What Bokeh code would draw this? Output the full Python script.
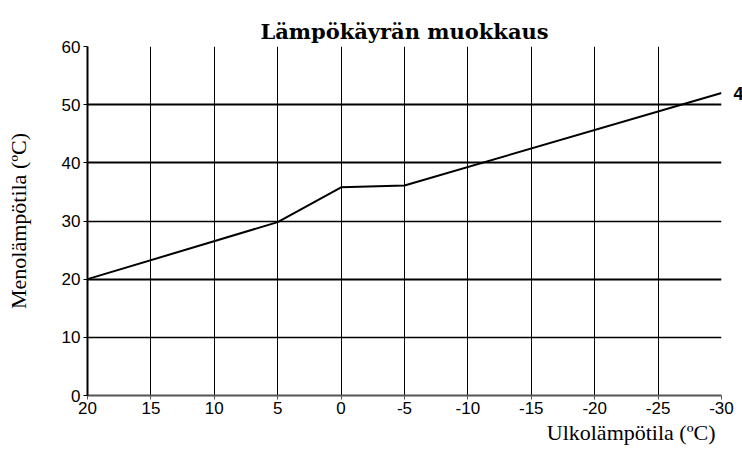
from bokeh.plotting import figure
from bokeh.models import Range1d, FixedTicker, Grid, Title, LinearAxis, PrintfTickFormatter
from bokeh.embed import file_html
from bokeh.resources import INLINE

# Data
outdoor_temp = [20, 5, 0, -5, -30]
flow_temp = [20, 29.8, 35.8, 36.1, 52.0]
x_ticks = [20, 15, 10, 5, 0, -5, -10, -15, -20, -25, -30]
y_ticks = [0, 10, 20, 30, 40, 50, 60]
title_text = "Lämpökäyrän muokkaus"
x_label = "Ulkolämpötila (ºC)"
y_label = "Menolämpötila (ºC)"
curve_label = "4"

p = figure(frame_width=634, frame_height=349, output_backend="svg",
           toolbar_location=None, x_range=Range1d(20, -30), y_range=Range1d(0, 60),
           min_border_left=87, min_border_right=20, min_border_top=46, min_border_bottom=54)
p.outline_line_color = None
p.background_fill_color = "white"

p.title.text = title_text
p.title.align = "center"
p.title.text_font = "DejaVu Serif"
p.title.text_font_style = "bold"
p.title.text_font_size = "21px"
p.title.text_color = "black"
p.title.standoff = 6

# axes
for ax in (p.xaxis[0], p.yaxis[0]):
    ax.major_label_text_font = "Liberation Sans"
    ax.major_label_text_font_size = "17px"
    ax.major_label_text_color = "black"
    ax.minor_tick_line_color = None
    ax.major_tick_in = 0
    ax.major_tick_out = 4
    ax.axis_line_width = 2
    ax.formatter = PrintfTickFormatter(format="%d")
p.xaxis.ticker = FixedTicker(ticks=x_ticks)
p.yaxis.ticker = FixedTicker(ticks=y_ticks)
p.xaxis.axis_line_color = "#555555"
p.xaxis.major_tick_line_color = "#555555"
p.yaxis.axis_line_color = "black"
p.xaxis.major_label_standoff = 2
p.yaxis.major_label_standoff = 3

p.yaxis.axis_label = y_label
p.yaxis.axis_label_text_font = "Liberation Serif"
p.yaxis.axis_label_text_font_style = "normal"
p.yaxis.axis_label_text_font_size = "22px"
p.yaxis.axis_label_text_color = "black"
p.yaxis.axis_label_standoff = 28

xt = Title(text=x_label, align="right", text_font="Liberation Serif",
           text_font_style="normal", text_font_size="22px", text_color="black",
           offset=6, standoff=2)
p.add_layout(xt, "below")

# right axis carrying the curve number
ra = LinearAxis(ticker=FixedTicker(ticks=[flow_temp[-1]]),
                major_label_overrides={flow_temp[-1]: curve_label},
                axis_line_color=None, major_tick_line_color=None,
                minor_tick_line_color=None, major_label_standoff=6,
                major_label_text_font="Liberation Sans", major_label_text_font_style="bold",
                major_label_text_font_size="18px", major_label_text_color="black")
p.add_layout(ra, "right")

# grids
p.xgrid.ticker = FixedTicker(ticks=x_ticks[1:-1])
p.xgrid.grid_line_color = "black"
p.xgrid.grid_line_width = 1
p.ygrid.ticker = FixedTicker(ticks=[10, 30])
p.ygrid.grid_line_color = "black"
p.ygrid.grid_line_width = 1.5
p.add_layout(Grid(dimension=1, ticker=FixedTicker(ticks=[20, 40, 50, 60]),
                  grid_line_color="black", grid_line_width=2))
p.add_layout(Grid(dimension=0, ticker=FixedTicker(ticks=[-30]),
                  grid_line_color="#555555", grid_line_width=2))

p.line(outdoor_temp, flow_temp, line_color="black", line_width=2)

open("out.html", "w").write(file_html(p, INLINE))
